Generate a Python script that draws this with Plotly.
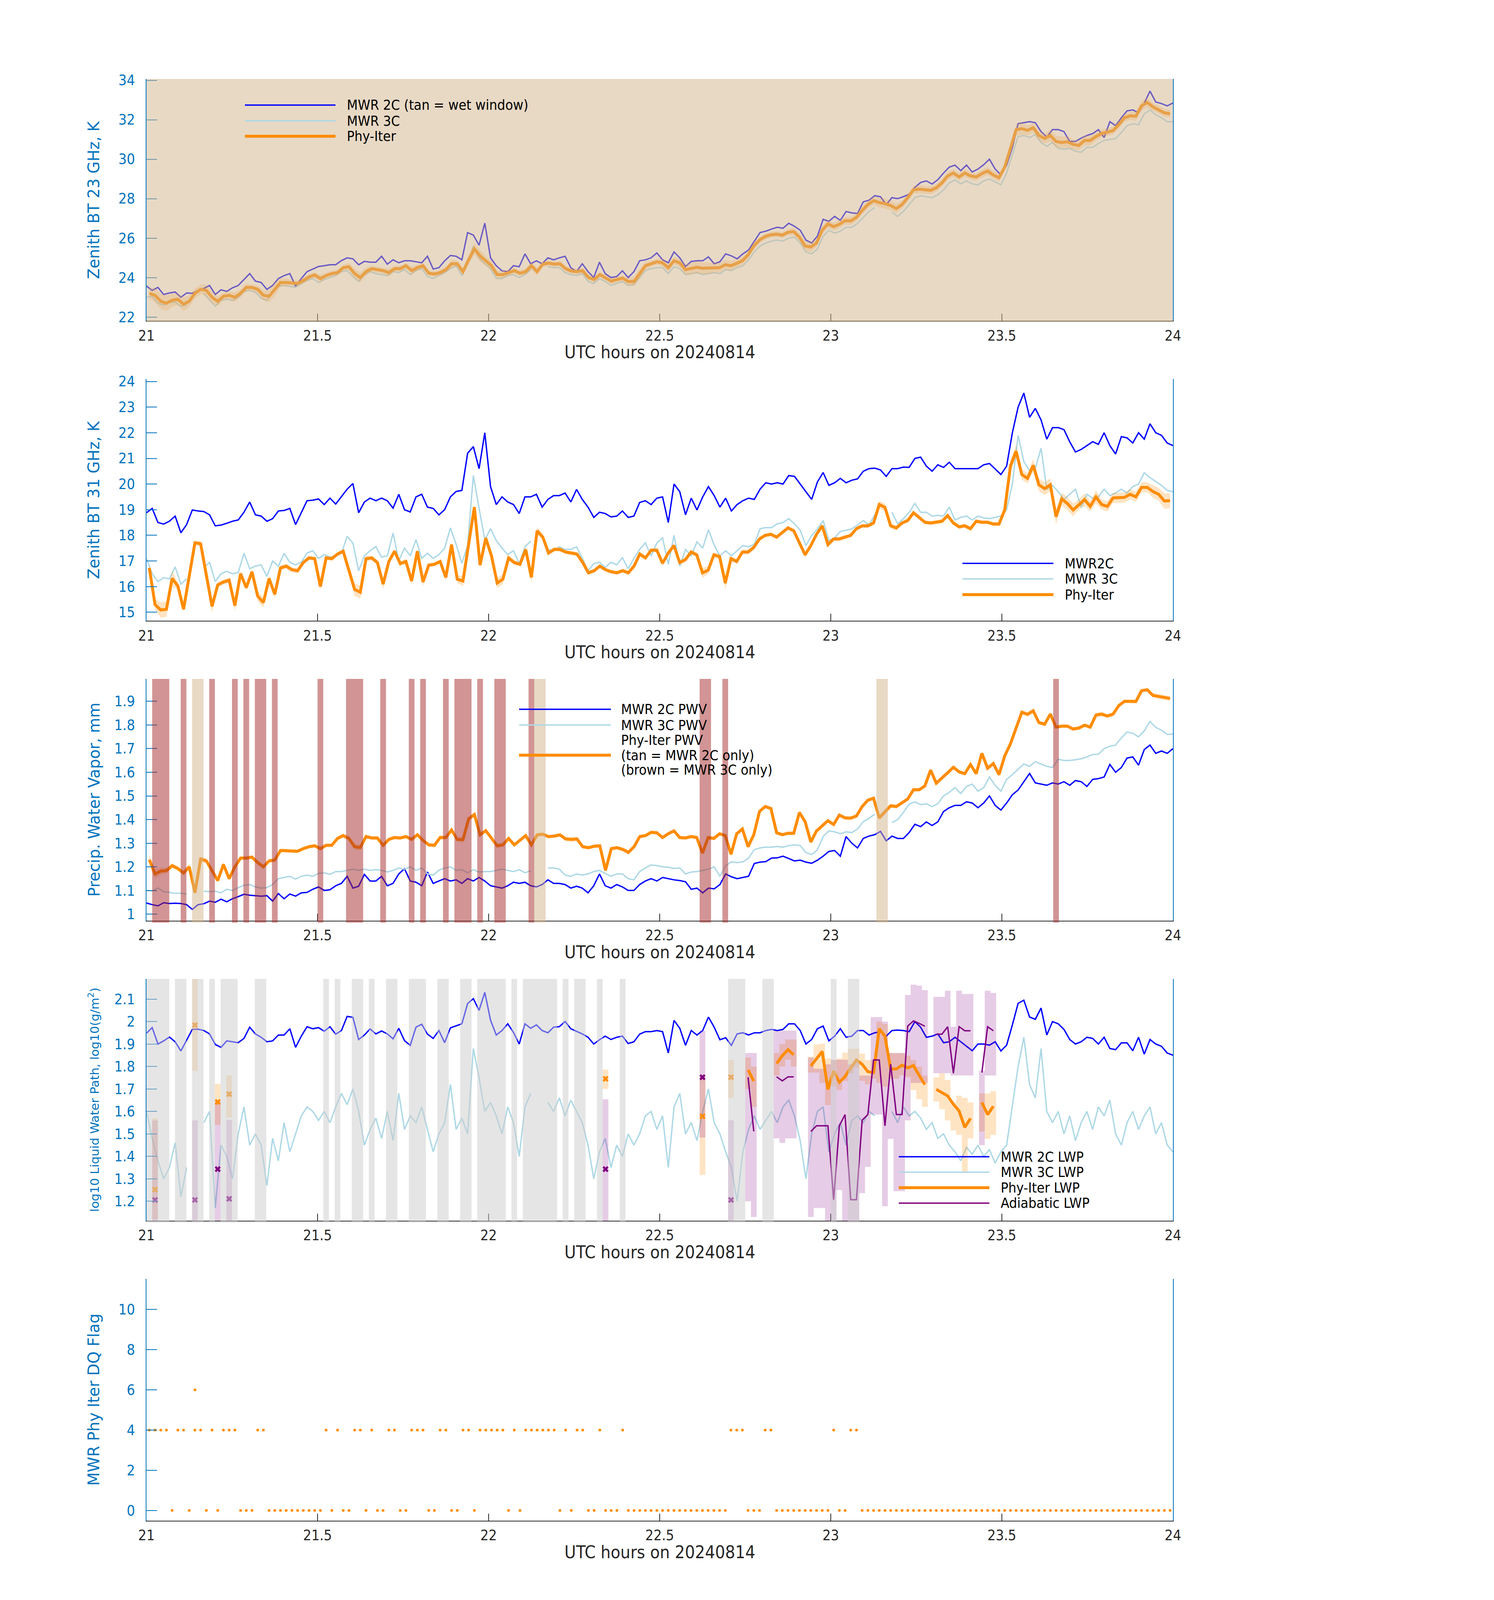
import numpy as np
import plotly.graph_objects as go

# ------------------------------------------------------------------
# data, one value per minute after 21 UTC on 20240814
# ------------------------------------------------------------------

# 23 GHz zenith brightness temperature, K
bt23_2c = [
    23.57, 23.35, 23.5, 23.14, 23.22, 23.27, 23.0, 23.22, 23.2, 23.35,
    23.45, 23.6, 23.14, 23.38, 23.3, 23.48, 23.6, 23.9, 24.2, 23.82,
    23.75, 23.4, 23.6, 23.95, 24.1, 24.2, 23.57, 23.95, 24.3, 24.43,
    24.56, 24.6, 24.65, 24.65, 24.86, 25.0, 24.95, 24.65, 24.82, 24.78,
    24.78, 25.08, 24.68, 24.9, 24.75, 24.85, 24.85, 24.8, 24.75, 25.08,
    24.43, 24.5, 24.85, 25.12, 25.08, 24.9, 26.28, 26.15, 25.64, 26.76,
    25.0, 24.6, 24.34, 24.3, 24.6, 24.55, 25.2, 24.7, 24.85, 24.7,
    25.0, 24.9, 25.0, 25.08, 24.5, 24.3, 24.7, 24.3, 24.0, 24.78,
    24.2, 24.0, 24.05, 24.34, 24.0, 24.3, 24.85, 24.9, 25.0, 25.25,
    24.9, 24.75, 25.3, 25.0, 24.56, 24.82, 24.85, 24.85, 25.05, 24.7,
    24.8, 25.2, 25.1, 24.95, 25.2, 25.4, 25.85, 26.28, 26.35, 26.46,
    26.55, 26.5, 26.75, 26.6, 26.4, 25.9, 25.75, 26.1, 26.95, 26.85,
    27.1, 26.9, 27.35, 27.28, 27.25, 27.84, 27.92, 28.15, 28.1, 27.7,
    28.05, 28.0, 28.1, 28.22, 28.57, 28.82, 28.9, 28.74, 28.96, 29.3,
    29.6, 29.7, 29.42, 29.7, 29.35, 29.5, 29.72, 30.0, 29.5, 29.2,
    29.7, 30.6, 31.8, 31.85, 31.9, 31.85, 31.4, 31.12, 31.5, 31.5,
    31.4, 30.9, 30.9, 31.07, 31.2, 31.3, 31.5, 31.1, 31.9, 31.7,
    32.1, 32.45, 32.5, 32.35, 32.84, 33.45, 32.9, 32.82, 32.7, 32.85]
bt23_3c = [
    23.0, 23.05, 22.7, 22.6, 22.75, 22.75, 22.55, 22.6, None, None,
    23.2, 22.85, 22.55, 22.85, 22.9, 22.85, 23.0, 23.3, 23.35, 23.25,
    22.95, 22.85, 23.25, 23.55, 23.6, 23.55, 23.5, 23.7, 23.85, 23.95,
    23.75, 23.9, 24.0, 24.1, 24.3, 24.35, 24.05, 23.8, 24.15, 24.3,
    24.2, 24.15, 24.1, 24.3, 24.25, 24.4, 24.15, 24.35, 24.45, 24.05,
    23.95, 24.1, 24.25, 24.45, 24.6, 24.1, 24.7, 25.6, 25.0, 24.7,
    24.45, 23.95, 23.95, 24.1, 24.15, 24.0, 24.15, 24.4, None, None,
    24.55, 24.5, 24.5, 24.25, 24.15, 24.1, 24.2, 23.8, 23.7, 23.95,
    23.8, 23.6, 23.7, 23.8, 23.6, 23.65, 24.0, 24.35, 24.45, 24.5,
    24.5, 24.2, 24.55, 24.45, 24.15, 24.2, 24.25, 24.15, 24.2, 24.25,
    24.2, 24.4, 24.35, 24.5, 24.6, 24.9, 25.3, 25.6, 25.75, 25.85,
    25.9, 25.85, 26.0, 26.05, 25.75, 25.3, 25.2, 25.45, 26.1, 26.4,
    26.25, 26.35, 26.55, 26.55, 26.75, 27.05, 27.35, 27.55, None, None,
    27.3, 27.1, 27.35, 27.7, 28.05, 28.15, 28.1, 28.05, 28.2, 28.45,
    28.8, 28.95, 28.75, 28.9, 28.75, 28.7, 28.9, 29.0, 28.85, 28.7,
    29.3, 30.2, 31.15, 31.2, 31.1, 31.25, 30.85, 30.65, 30.85, 30.55,
    30.5, 30.55, 30.4, 30.35, 30.6, 30.6, 30.8, 30.95, 31.0, 31.05,
    31.35, 31.7, 31.8, 31.75, 32.3, 32.5, 32.25, 32.1, 31.9, 31.9]
bt23_phy = [
    23.2, 23.1, 22.8, 22.7, 22.85, 22.9, 22.65, 22.8, 23.2, 23.4,
    23.35, 23.0, 22.8, 23.05, 23.1, 23.0, 23.2, 23.5, 23.5, 23.4,
    23.1, 23.05, 23.4, 23.75, 23.75, 23.72, 23.7, 23.85, 24.03, 24.13,
    23.95, 24.1, 24.2, 24.25, 24.5, 24.55, 24.2, 24.0, 24.3, 24.45,
    24.4, 24.35, 24.25, 24.45, 24.45, 24.6, 24.35, 24.5, 24.6, 24.22,
    24.18, 24.25, 24.4, 24.7, 24.7, 24.3, 24.9, 25.45, 25.1, 24.85,
    24.6, 24.15, 24.15, 24.25, 24.35, 24.22, 24.3, 24.6, 24.3, 24.68,
    24.73, 24.68, 24.7, 24.45, 24.33, 24.3, 24.35, 24.0, 23.9, 24.15,
    24.0, 23.82, 23.9, 23.97, 23.8, 23.8, 24.2, 24.6, 24.7, 24.8,
    24.75, 24.5, 24.85, 24.75, 24.4, 24.45, 24.52, 24.47, 24.47, 24.5,
    24.5, 24.65, 24.6, 24.72, 24.85, 25.15, 25.6, 25.9, 26.08, 26.17,
    26.2, 26.15, 26.3, 26.33, 26.05, 25.6, 25.55, 25.75, 26.4, 26.72,
    26.58, 26.7, 26.88, 26.87, 27.05, 27.4, 27.7, 27.9, 27.8, 27.75,
    27.65, 27.5, 27.7, 28.05, 28.45, 28.48, 28.45, 28.42, 28.55, 28.8,
    29.15, 29.3, 29.1, 29.3, 29.15, 29.1, 29.27, 29.4, 29.2, 29.06,
    29.6, 30.5, 31.5, 31.55, 31.46, 31.6, 31.2, 31.05, 31.2, 30.9,
    30.85, 30.88, 30.75, 30.7, 30.95, 30.95, 31.15, 31.3, 31.38, 31.45,
    31.75, 32.1, 32.2, 32.18, 32.7, 32.88, 32.65, 32.52, 32.35, 32.3]
bt23_phy_unc = [
    0.30, 0.35, 0.40, 0.40, 0.35, 0.30, 0.35, 0.30, 0.25, 0.25,
    0.30, 0.30, 0.25, 0.20, 0.20, 0.25, 0.20, 0.20, 0.15, 0.20,
    0.25, 0.30, 0.35, 0.20, 0.20, 0.15, 0.15, 0.15, 0.15, 0.15,
    0.20, 0.15, 0.15, 0.15, 0.15, 0.20, 0.25, 0.25, 0.20, 0.15,
    0.15, 0.15, 0.20, 0.15, 0.15, 0.15, 0.20, 0.15, 0.15, 0.15,
    0.15, 0.15, 0.15, 0.20, 0.15, 0.20, 0.25, 0.30, 0.30, 0.25,
    0.25, 0.20, 0.20, 0.15, 0.15, 0.15, 0.15, 0.20, 0.20, 0.15,
    0.15, 0.15, 0.15, 0.15, 0.15, 0.15, 0.15, 0.15, 0.15, 0.15,
    0.15, 0.15, 0.15, 0.15, 0.20, 0.25, 0.25, 0.20, 0.15, 0.15,
    0.20, 0.20, 0.20, 0.20, 0.25, 0.30, 0.30, 0.30, 0.30, 0.25,
    0.25, 0.25, 0.25, 0.20, 0.20, 0.20, 0.20, 0.15, 0.15, 0.15,
    0.15, 0.15, 0.15, 0.20, 0.20, 0.25, 0.25, 0.20, 0.20, 0.20,
    0.20, 0.20, 0.20, 0.20, 0.20, 0.20, 0.20, 0.20, 0.25, 0.25,
    0.25, 0.25, 0.20, 0.20, 0.20, 0.20, 0.20, 0.20, 0.20, 0.20,
    0.20, 0.20, 0.20, 0.20, 0.20, 0.20, 0.20, 0.20, 0.20, 0.20,
    0.20, 0.25, 0.30, 0.30, 0.25, 0.25, 0.25, 0.25, 0.30, 0.30,
    0.30, 0.30, 0.25, 0.25, 0.25, 0.25, 0.20, 0.20, 0.20, 0.20,
    0.20, 0.20, 0.20, 0.25, 0.25, 0.25, 0.20, 0.20, 0.20, 0.20]

# 31 GHz zenith brightness temperature, K
bt31_2c = [
    18.88, 19.05, 18.5, 18.44, 18.55, 18.75, 18.1, 18.42, 18.99, 18.95,
    18.93, 18.8, 18.37, 18.4, 18.47, 18.55, 18.6, 18.9, 19.3, 18.8,
    18.75, 18.55, 18.65, 18.95, 18.97, 19.05, 18.42, 18.9, 19.35, 19.37,
    19.42, 19.2, 19.45, 19.22, 19.5, 19.8, 20.02, 18.88, 19.3, 19.45,
    19.35, 19.45, 19.35, 19.06, 19.6, 19.0, 18.91, 19.5, 19.6, 19.1,
    19.05, 18.8, 19.0, 19.5, 19.71, 19.75, 21.2, 21.46, 20.6, 22.0,
    19.9, 19.2, 19.5, 19.3, 19.2, 18.85, 19.5, 19.5, 19.6, 19.1,
    19.4, 19.55, 19.55, 19.65, 19.3, 19.79, 19.4, 19.1, 18.7, 18.9,
    18.85, 18.72, 18.75, 18.95, 18.7, 18.75, 19.28, 19.35, 19.2, 19.45,
    19.5, 18.5, 20.0, 19.7, 18.8, 19.45, 18.99, 19.5, 19.9, 19.55,
    19.1, 19.45, 18.95, 19.2, 19.35, 19.45, 19.4, 19.8, 20.05, 20.0,
    20.05, 20.0, 20.33, 20.3, 20.0, 19.7, 19.4, 20.08, 20.45, 19.95,
    20.05, 20.22, 20.05, 20.15, 20.2, 20.5, 20.6, 20.62, 20.55, 20.3,
    20.6, 20.6, 20.66, 20.65, 21.0, 21.05, 20.7, 20.5, 20.75, 20.65,
    20.85, 20.6, 20.6, 20.6, 20.6, 20.6, 20.75, 20.8, 20.59, 20.37,
    20.7, 22.0, 23.0, 23.55, 22.6, 22.95, 22.5, 21.75, 22.2, 22.2,
    22.12, 21.65, 21.25, 21.35, 21.5, 21.65, 21.55, 22.0, 21.5, 21.17,
    21.85, 21.8, 21.6, 22.0, 21.75, 22.35, 22.0, 21.9, 21.6, 21.5]
bt31_3c = [
    17.1, 16.5, 16.2, 16.35, 16.3, 16.77, 16.1, 16.3, None, None,
    16.73, 16.95, 16.2, 16.5, 16.6, 16.5, 16.55, 17.3, 16.7, 16.8,
    16.85, 16.4, 17.0, 16.8, 17.3, 16.95, 16.85, 16.95, 17.31, 17.4,
    17.1, 17.25, 17.15, 17.2, 17.3, 17.96, 17.7, 16.62, 17.2, 17.4,
    17.56, 17.15, 17.2, 18.09, 17.0, 17.5, 17.2, 17.83, 17.1, 17.3,
    17.1, 17.25, 17.5, 18.29, 17.65, 16.91, 17.6, 20.33, 19.06, 17.82,
    18.26, 17.8, 17.5, 17.25, 17.4, 16.9, 17.55, 17.78, None, None,
    17.45, 17.4, 17.55, 17.45, 17.45, 17.55, 17.1, 16.62, 16.9, 16.95,
    16.75, 16.95, 16.85, 17.13, 16.7, 17.1, 17.45, 17.71, 17.2, 17.7,
    17.9, 16.87, 18.0, 16.8, 17.45, 17.2, 17.75, 17.5, 18.22, 17.62,
    17.2, 17.4, 17.2, 17.4, 17.6, 17.55, 17.65, 18.26, 18.3, 18.3,
    18.45, 18.5, 18.65, 18.45, 18.2, 17.6, 18.0, 18.25, 18.58, 17.8,
    17.9, 18.15, 18.2, 18.25, 18.4, 18.58, 18.4, 18.8, None, None,
    18.9, 18.45, 18.65, 18.9, 19.24, 18.9, 18.9, 18.75, 18.78, 18.75,
    19.1, 18.6, 18.7, 18.75, 18.6, 18.75, 18.68, 18.65, 18.7, 18.75,
    19.0, 20.0, 21.9, 20.88, 20.52, 20.6, 21.4, 19.8, 19.95, 19.7,
    19.4, 19.6, 19.8, 19.1, 19.6, 19.45, 19.5, 19.8, 19.55, 19.65,
    19.8, 19.65, 19.9, 20.0, 20.44, 20.25, 20.1, 19.95, 19.75, 19.7]
bt31_phy = [
    16.73, 15.3, 15.09, 15.12, 16.32, 16.03, 15.12, 16.45, 17.71, 17.67,
    16.45, 15.23, 16.07, 16.18, 16.25, 15.26, 16.51, 15.96, 16.58, 15.63,
    15.38, 16.32, 15.7, 16.73, 16.8, 16.66, 16.62, 16.94, 17.12, 17.09,
    16.0, 17.12, 17.09, 17.27, 17.38, 16.62, 15.89, 15.78, 17.09, 17.12,
    16.94, 16.1, 16.98, 17.38, 16.9, 16.98, 16.22, 17.38, 16.18, 16.84,
    16.87, 16.98, 16.36, 17.64, 16.29, 16.22, 17.6, 19.1, 16.84, 17.89,
    17.2, 16.14, 16.29, 17.12, 16.94, 16.87, 17.45, 16.36, 18.18, 17.93,
    17.31, 17.45, 17.45, 17.35, 17.31, 17.27, 16.94, 16.54, 16.62, 16.8,
    16.66, 16.58, 16.54, 16.62, 16.54, 16.8, 17.27, 17.12, 17.42, 17.42,
    16.91, 17.31, 17.6, 16.94, 17.05, 17.35, 17.24, 16.54, 16.64, 17.24,
    17.17, 16.14, 17.09, 16.98, 17.35, 17.35, 17.53, 17.86, 18.0, 18.04,
    17.93, 18.11, 18.29, 18.18, 17.71, 17.24, 17.6, 18.04, 18.37, 17.64,
    17.86, 17.86, 17.93, 18.0, 18.26, 18.37, 18.37, 18.48, 19.2, 19.09,
    18.37, 18.29, 18.48, 18.58, 18.88, 18.69, 18.51, 18.48, 18.51, 18.55,
    18.77, 18.48, 18.33, 18.37, 18.26, 18.55, 18.51, 18.51, 18.44, 18.44,
    18.99, 20.7, 21.28, 20.37, 20.22, 20.73, 19.97, 19.82, 19.97, 18.73,
    19.42, 19.24, 18.99, 19.2, 19.39, 19.13, 19.5, 19.2, 19.13, 19.46,
    19.46, 19.48, 19.6, 19.5, 19.87, 19.87, 19.71, 19.6, 19.34, 19.35]
bt31_phy_unc = [
    0.15, 0.2, 0.3, 0.3, 0.3, 0.15, 0.1, 0.25, 0.1, 0.1,
    0.15, 0.25, 0.1, 0.1, 0.1, 0.2, 0.1, 0.1, 0.1, 0.2,
    0.2, 0.1, 0.15, 0.1, 0.1, 0.1, 0.1, 0.08, 0.08, 0.08,
    0.1, 0.08, 0.08, 0.08, 0.08, 0.15, 0.25, 0.25, 0.1, 0.1,
    0.1, 0.2, 0.1, 0.08, 0.1, 0.1, 0.15, 0.08, 0.15, 0.08,
    0.08, 0.08, 0.15, 0.1, 0.15, 0.2, 0.1, 0.1, 0.1, 0.1,
    0.1, 0.2, 0.2, 0.1, 0.1, 0.08, 0.08, 0.2, 0.15, 0.1,
    0.08, 0.08, 0.08, 0.08, 0.08, 0.08, 0.08, 0.08, 0.08, 0.08,
    0.08, 0.08, 0.08, 0.08, 0.1, 0.1, 0.1, 0.08, 0.08, 0.08,
    0.1, 0.1, 0.1, 0.1, 0.1, 0.1, 0.1, 0.2, 0.15, 0.1,
    0.1, 0.25, 0.1, 0.1, 0.1, 0.1, 0.1, 0.1, 0.08, 0.08,
    0.08, 0.08, 0.08, 0.08, 0.1, 0.1, 0.1, 0.1, 0.08, 0.1,
    0.08, 0.08, 0.08, 0.08, 0.08, 0.08, 0.08, 0.08, 0.15, 0.15,
    0.1, 0.1, 0.08, 0.08, 0.08, 0.08, 0.08, 0.08, 0.08, 0.08,
    0.08, 0.08, 0.08, 0.08, 0.08, 0.08, 0.08, 0.08, 0.08, 0.08,
    0.1, 0.25, 0.25, 0.2, 0.2, 0.25, 0.25, 0.25, 0.25, 0.3,
    0.25, 0.25, 0.25, 0.2, 0.25, 0.2, 0.25, 0.2, 0.2, 0.2,
    0.2, 0.2, 0.2, 0.2, 0.2, 0.2, 0.25, 0.25, 0.3, 0.3]

# precipitable water vapor, mm
pwv_2c = [
    1.047, 1.04, 1.035, 1.048, 1.045, 1.046, 1.045, 1.04, 1.02, 1.04,
    1.044, 1.055, 1.05, 1.063, 1.052, 1.065, 1.074, 1.084, 1.08, 1.078,
    1.076, 1.078, 1.055, 1.087, 1.065, 1.085, 1.076, 1.09, 1.092, 1.105,
    1.115, 1.1, 1.103, 1.12, 1.13, 1.16, 1.11, 1.118, 1.168, 1.14,
    1.14, 1.16, 1.12, 1.13, 1.17, 1.192, 1.14, 1.135, 1.12, 1.178,
    1.13, 1.14, 1.15, 1.14, 1.145, 1.13, 1.15, 1.14, 1.155, 1.14,
    1.12, 1.115, 1.11, 1.12, 1.135, 1.13, 1.135, 1.12, 1.115, 1.125,
    1.145, 1.13, 1.13, 1.125, 1.11, 1.118, 1.11, 1.09, 1.12, 1.17,
    1.12, 1.11, 1.125, 1.115, 1.1, 1.1, 1.125, 1.14, 1.15, 1.14,
    1.155, 1.15, 1.145, 1.142, 1.137, 1.105, 1.11, 1.09, 1.11, 1.107,
    1.125, 1.17, 1.158, 1.15, 1.155, 1.16, 1.214, 1.22, 1.222, 1.237,
    1.238, 1.245, 1.235, 1.225, 1.228, 1.22, 1.215, 1.228, 1.245, 1.265,
    1.269, 1.245, 1.328, 1.3, 1.28, 1.32, 1.33, 1.336, 1.35, 1.31,
    1.33, 1.32, 1.32, 1.345, 1.38, 1.37, 1.39, 1.375, 1.39, 1.434,
    1.45, 1.46, 1.46, 1.475, 1.47, 1.45, 1.47, 1.5, 1.46, 1.44,
    1.47, 1.505, 1.525, 1.56, 1.595, 1.555, 1.55, 1.545, 1.555, 1.55,
    1.56, 1.545, 1.565, 1.56, 1.54, 1.57, 1.573, 1.58, 1.633, 1.6,
    1.62, 1.66, 1.665, 1.63, 1.696, 1.715, 1.68, 1.69, 1.68, 1.7]
pwv_3c = [
    1.1, 1.098, 1.11, 1.095, 1.092, 1.088, 1.088, 1.085, None, None,
    1.097, 1.095, 1.097, 1.09, 1.105, 1.1, 1.112, 1.122, 1.125, 1.115,
    1.11, 1.112, 1.125, 1.15, 1.155, 1.16, 1.148, 1.16, 1.165, 1.16,
    1.172, 1.175, 1.168, 1.18, 1.18, 1.185, 1.19, 1.185, 1.19, 1.185,
    1.188, 1.185, 1.178, 1.185, 1.195, 1.19, 1.2, 1.185, 1.195, 1.17,
    1.165, 1.186, 1.195, 1.2, 1.185, 1.188, 1.175, 1.188, 1.178, 1.18,
    1.18, 1.185, 1.19, 1.185, 1.18, 1.188, 1.175, 1.183, None, None,
    1.195, 1.195, 1.19, 1.165, 1.16, 1.17, 1.165, 1.17, 1.18, 1.185,
    1.172, 1.16, 1.17, 1.17, 1.15, 1.145, 1.18, 1.195, 1.208, 1.205,
    1.2, 1.198, 1.193, 1.195, 1.17, 1.178, 1.18, 1.185, 1.19, 1.2,
    1.16, 1.205, 1.221, 1.218, 1.221, 1.237, 1.273, 1.28, 1.283, 1.283,
    1.286, 1.283, 1.29, 1.293, 1.29, 1.26, 1.252, 1.272, 1.328, 1.352,
    1.348, 1.34, 1.348, 1.345, 1.36, 1.391, 1.405, 1.423, None, None,
    1.387, 1.4, 1.43, 1.465, 1.475, 1.463, 1.467, 1.455, 1.467, 1.5,
    1.515, 1.535, 1.51, 1.54, 1.55, 1.52, 1.535, 1.58, 1.545, 1.52,
    1.57, 1.59, 1.613, 1.635, 1.625, 1.645, 1.635, 1.625, 1.62, 1.655,
    1.65, 1.65, 1.653, 1.657, 1.665, 1.675, 1.676, 1.7, 1.71, 1.715,
    1.745, 1.77, 1.765, 1.75, 1.775, 1.815, 1.79, 1.778, 1.76, 1.762]
pwv_phy = [
    1.23, 1.17, 1.182, 1.184, 1.205, 1.193, 1.174, 1.2, 1.091, 1.233,
    1.225, 1.182, 1.142, 1.21, 1.15, 1.2, 1.237, 1.237, 1.241, 1.218,
    1.2, 1.225, 1.229, 1.269, 1.269, 1.266, 1.266, 1.277, 1.285, 1.289,
    1.277, 1.291, 1.291, 1.32, 1.332, 1.32, 1.285, 1.282, 1.328, 1.322,
    1.322, 1.291, 1.316, 1.324, 1.322, 1.328, 1.316, 1.336, 1.312, 1.293,
    1.291, 1.324, 1.324, 1.356, 1.316, 1.315, 1.403, 1.421, 1.336, 1.353,
    1.32, 1.289, 1.293, 1.32, 1.293, 1.312, 1.332, 1.293, 1.335, 1.338,
    1.328, 1.33, 1.335, 1.318, 1.316, 1.318, 1.285, 1.281, 1.287, 1.289,
    1.185, 1.277, 1.281, 1.274, 1.261, 1.285, 1.328, 1.332, 1.346, 1.344,
    1.324, 1.34, 1.352, 1.324, 1.322, 1.328, 1.324, 1.258, 1.324, 1.32,
    1.34, 1.332, 1.253, 1.34, 1.36, 1.285, 1.336, 1.434, 1.455, 1.447,
    1.344, 1.336, 1.342, 1.342, 1.43, 1.391, 1.305, 1.352, 1.372, 1.395,
    1.379, 1.419, 1.407, 1.406, 1.415, 1.455, 1.482, 1.49, 1.407, 1.434,
    1.458, 1.455, 1.471, 1.487, 1.526, 1.526, 1.542, 1.609, 1.554, 1.578,
    1.598, 1.621, 1.602, 1.594, 1.633, 1.594, 1.68, 1.617, 1.637, 1.59,
    1.669, 1.72, 1.79, 1.854, 1.845, 1.86, 1.81, 1.803, 1.846, 1.791,
    1.795, 1.795, 1.783, 1.787, 1.799, 1.791, 1.842, 1.846, 1.838, 1.846,
    1.882, 1.9, 1.9, 1.899, 1.945, 1.949, 1.925, 1.921, 1.917, 1.912]
pwv_phy_unc = [
    0.02, 0.02, 0.015, 0.012, 0.01, 0.01, 0.01, 0.012, 0.015, 0.01,
    0.01, 0.012, 0.01, 0.01, 0.01, 0.01, 0.008, 0.008, 0.008, 0.01,
    0.01, 0.008, 0.008, 0.008, 0.008, 0.008, 0.008, 0.008, 0.008, 0.008,
    0.01, 0.008, 0.008, 0.008, 0.01, 0.01, 0.012, 0.012, 0.01, 0.008,
    0.008, 0.01, 0.008, 0.008, 0.008, 0.008, 0.008, 0.008, 0.008, 0.008,
    0.01, 0.01, 0.008, 0.008, 0.01, 0.012, 0.01, 0.01, 0.01, 0.008,
    0.008, 0.01, 0.01, 0.008, 0.008, 0.008, 0.008, 0.01, 0.01, 0.008,
    0.008, 0.008, 0.008, 0.01, 0.01, 0.01, 0.008, 0.008, 0.008, 0.008,
    0.01, 0.008, 0.008, 0.008, 0.01, 0.01, 0.008, 0.008, 0.008, 0.008,
    0.008, 0.008, 0.008, 0.008, 0.008, 0.008, 0.008, 0.01, 0.008, 0.008,
    0.008, 0.008, 0.01, 0.008, 0.008, 0.008, 0.008, 0.008, 0.008, 0.008,
    0.008, 0.008, 0.008, 0.008, 0.008, 0.008, 0.008, 0.008, 0.008, 0.008,
    0.008, 0.008, 0.008, 0.008, 0.008, 0.008, 0.008, 0.008, 0.012, 0.012,
    0.01, 0.008, 0.008, 0.008, 0.008, 0.008, 0.008, 0.008, 0.008, 0.008,
    0.008, 0.008, 0.008, 0.008, 0.008, 0.008, 0.008, 0.008, 0.008, 0.008,
    0.008, 0.008, 0.008, 0.01, 0.01, 0.01, 0.008, 0.008, 0.008, 0.008,
    0.008, 0.008, 0.008, 0.008, 0.008, 0.008, 0.01, 0.01, 0.008, 0.008,
    0.008, 0.008, 0.008, 0.008, 0.008, 0.008, 0.01, 0.01, 0.01, 0.01]
# minutes where the Phy-Iter PWV used one radiometer only
pwv_only_2c_min = [8, 9, 68, 69, 128, 129]
pwv_only_3c_min = [1, 2, 3, 6, 11, 15, 17, 19, 20, 22, 30, 35, 36, 37, 41,
                   46, 48, 52, 54, 55, 56, 58, 61, 62, 67, 97, 98, 101, 159]

# log10 liquid water path, log10(g/m2)
lwp_2c = [
    1.948, 1.973, 1.9, 1.914, 1.931, 1.91, 1.869, 1.917, 1.965, 1.966,
    1.96, 1.945, 1.898, 1.885, 1.914, 1.91, 1.906, 1.925, 1.975, 1.945,
    1.93, 1.91, 1.914, 1.94, 1.94, 1.968, 1.885, 1.935, 1.977, 1.968,
    1.973, 1.957, 1.977, 1.944, 1.96, 2.023, 2.019, 1.92, 1.94, 1.967,
    1.945, 1.958, 1.945, 1.923, 1.97, 1.915, 1.894, 1.975, 1.988, 1.944,
    1.925, 1.96, 1.906, 1.972, 1.981, 1.99, 2.08, 2.102, 2.05, 2.13,
    2.006, 1.94, 1.96, 1.99, 1.952, 1.9, 1.99, 1.97, 1.985, 1.96,
    1.95, 1.975, 1.977, 2.0, 1.968, 1.956, 1.945, 1.93, 1.9, 1.919,
    1.935, 1.92, 1.93, 1.935, 1.902, 1.91, 1.944, 1.955, 1.955, 1.96,
    1.955, 1.86, 2.005, 1.97, 1.894, 1.96, 1.94, 1.96, 2.02, 1.975,
    1.919, 1.928, 1.894, 1.945, 1.95, 1.94, 1.95, 1.95, 1.96, 1.965,
    1.96, 1.965, 1.99, 1.99, 1.96, 1.9, 1.92, 1.968, 1.98, 1.914,
    1.935, 1.968, 1.93, 1.935, 1.96, 1.96, 1.94, 1.95, 1.955, 1.935,
    1.96, 1.962, 1.96, 1.955, 2.0, 1.975, 1.93, 1.935, 1.945, 1.906,
    1.91, 1.93, 1.91, 1.89, 1.87, 1.9, 1.9, 1.895, 1.91, 1.869,
    1.895, 1.985, 2.081, 2.095, 2.02, 2.01, 2.06, 1.94, 2.0, 1.99,
    1.965, 1.92, 1.9, 1.91, 1.93, 1.925, 1.9, 1.93, 1.88, 1.875,
    1.905, 1.905, 1.87, 1.93, 1.855, 1.92, 1.9, 1.89, 1.86, 1.85]
lwp_3c = [
    1.6, 1.48, 1.38, 1.3, 1.35, 1.46, 1.22, 1.35, None, None,
    1.55, 1.6, 1.17, 1.45, 1.4, 1.3, 1.5, 1.62, 1.45, 1.5,
    1.45, 1.27, 1.48, 1.38, 1.55, 1.42, 1.5, 1.58, 1.62, 1.6,
    1.56, 1.6, 1.55, 1.62, 1.68, 1.63, 1.7, 1.6, 1.45, 1.52,
    1.57, 1.48, 1.6, 1.47, 1.68, 1.52, 1.58, 1.55, 1.62, 1.52,
    1.42, 1.5, 1.55, 1.72, 1.52, 1.57, 1.5, 1.88, 1.75, 1.6,
    1.64, 1.58, 1.5, 1.62, 1.55, 1.4, 1.62, 1.68, None, None,
    1.64, 1.6, 1.66, 1.58, 1.65, 1.6, 1.55, 1.45, 1.3, 1.42,
    1.48, 1.35, 1.45, 1.4, 1.5, 1.45, 1.5, 1.58, 1.6, 1.52,
    1.58, 1.35, 1.62, 1.68, 1.5, 1.55, 1.47, 1.6, 1.7, 1.55,
    1.5, 1.42, 1.35, 1.2, 1.42, 1.52, 1.58, 1.52, 1.56, 1.6,
    1.55, 1.62, 1.65, 1.58, 1.47, 1.3, 1.5, 1.6, 1.62, 1.42,
    1.5, 1.55, 1.45, 1.56, 1.58, 1.55, 1.6, 1.58, None, None,
    1.6, 1.55, 1.62, 1.58, 1.6, 1.57, 1.52, 1.55, 1.48, 1.5,
    1.45, 1.42, 1.38, 1.44, 1.41, 1.45, 1.4, 1.43, 1.37, 1.42,
    1.45, 1.62, 1.8, 1.93, 1.72, 1.66, 1.88, 1.6, 1.55, 1.6,
    1.5, 1.58, 1.47, 1.55, 1.6, 1.52, 1.62, 1.58, 1.65, 1.5,
    1.45, 1.55, 1.6, 1.52, 1.58, 1.62, 1.5, 1.55, 1.45, 1.42]

# Phy-Iter and adiabatic LWP exist only at these minutes
lwp_min = [1, 8, 12, 14, 80, 97, 102, 105, 106, 110, 111, 112, 113,
           116, 117, 118, 119, 120, 121, 122, 123, 124, 125, 126, 127,
           128, 129, 130, 131, 132, 133, 134, 135, 136,
           138, 139, 140, 141, 142, 143, 144, 146, 147, 148]
phy_lwp = [1.252, 1.984, 1.642, 1.677, 1.745, 1.578, 1.752, 1.785, 1.735,
           1.813, 1.848, 1.875, 1.852,
           1.802, 1.835, 1.867, 1.698, 1.78, 1.73, 1.755, 1.794, 1.829,
           1.81, 1.777, 1.773, 1.968, 1.935, 1.789, 1.789, 1.806, 1.794,
           1.804, 1.76, 1.719,
           1.698, 1.682, 1.669, 1.632, 1.602, 1.529, 1.569, 1.64, 1.586, 1.623]
phy_lwp_lo = [1.12, 1.78, 1.54, 1.573, 1.70, 1.317, 1.661, 1.70, 1.62,
              1.76, 1.80, 1.83, 1.80,
              1.773, 1.773, 1.727, 1.628, 1.711, 1.695, 1.736, 1.769, 1.794,
              1.736, 1.72, 1.745, 1.727, 1.71, 1.745, 1.745, 1.761, 1.753,
              1.695, 1.654, 1.62,
              1.644, 1.61, 1.56, 1.515, 1.495, 1.328, 1.48, 1.51, 1.478, 1.495]
phy_lwp_hi = [1.57, 2.2, 1.723, 1.76, 1.786, 1.76, 1.829, 1.84, 1.80,
              1.86, 1.90, 1.92, 1.92,
              1.844, 1.898, 1.902, 1.836, 1.828, 1.836, 1.861, 1.878, 1.88,
              1.857, 1.828, 1.83, 2.0, 1.99, 1.86, 1.86, 1.86, 1.848,
              1.828, 1.80, 1.76,
              1.752, 1.77, 1.74, 1.64, 1.67, 1.66, 1.64, 1.68, 1.68, 1.69]
adi_lwp = [1.206, 1.206, 1.343, 1.211, 1.343, 1.752, 1.206, 1.752, 1.511,
           1.754, 1.736, 1.754, 1.754,
           1.511, 1.536, 1.536, 1.536, 1.207, 1.536, 1.586, 1.207, 1.207,
           1.561, 1.586, 1.829, 1.829, 1.536, 1.81, 1.586, 1.586, 1.98,
           2.003, 1.992, 1.979,
           1.944, 1.944, 1.977, 1.77, 1.977, 1.959, 1.959, 1.773, 1.977, 1.959]
adi_lwp_lo = [1.10, 1.0, 1.0, 1.0, 1.0, 1.484, 1.0, 1.2, 1.13,
              1.48, 1.46, 1.48, 1.48,
              1.13, 1.17, 1.17, 1.05, 1.05, 1.25, 1.05, 1.05, 1.05,
              1.236, 1.353, 1.586, 1.586, 1.178, 1.478, 1.245, 1.245, 1.56,
              1.727, 1.727, 1.727,
              1.77, 1.77, 1.77, 1.76, 1.76, 1.76, 1.76, 1.45, 1.76, 1.76]
adi_lwp_hi = [1.56, 1.56, 1.644, 1.563, 1.654, 1.959, 1.561, 1.86, 1.86,
              1.96, 1.96, 1.96, 1.96,
              1.84, 1.79, 1.79, 1.81, 1.83, 1.83, 1.83, 1.81, 1.82,
              1.76, 1.76, 2.02, 2.02, 2.0, 1.86, 1.86, 1.86, 2.118,
              2.164, 2.16, 2.14,
              2.11, 2.11, 2.137, 1.977, 2.137, 2.123, 2.123, 1.78, 2.137, 2.127]

# Phy-Iter data quality flag
dq_flag = [
    4, 4, 4, 4, 0, 4, 4, 0, 4, 4,
    0, 4, 0, 4, 4, 4, 0, 0, 0, 4,
    4, 0, 0, 0, 0, 0, 0, 0, 0, 0,
    0, 4, 0, 4, 0, 0, 4, 4, 0, 4,
    0, 0, 4, 4, 0, 0, 4, 4, 4, 0,
    0, 4, 4, 0, 0, 4, 4, 0, 4, 4,
    4, 4, 4, 0, 4, 0, 4, 4, 4, 4,
    4, 4, 0, 4, 0, 4, 4, 0, 0, 4,
    0, 0, 0, 4, 0, 0, 0, 0, 0, 0,
    0, 0, 0, 0, 0, 0, 0, 0, 0, 0,
    0, 0, 4, 4, 4, 0, 0, 0, 4, 4,
    0, 0, 0, 0, 0, 0, 0, 0, 0, 0,
    4, 0, 0, 4, 4, 0, 0, 0, 0, 0,
    0, 0, 0, 0, 0, 0, 0, 0, 0, 0,
    0, 0, 0, 0, 0, 0, 0, 0, 0, 0,
    0, 0, 0, 0, 0, 0, 0, 0, 0, 0,
    0, 0, 0, 0, 0, 0, 0, 0, 0, 0,
    0, 0, 0, 0, 0, 0, 0, 0, 0, 0]
dq_extra_min = [8]
dq_extra_flag = [6]

# ------------------------------------------------------------------
N = 180
t_mwr = np.linspace(21, 24, N)
t_phy = 21 + (np.arange(N) + 0.5) / 60.0

BLUE, LBLUE, ORANGE, PURPLE = "#0000FF", "#ADD8E6", "#FF8C00", "#800080"
AXBLUE, DARK = "#0072BD", "#262626"
ORANGE_FILL = "rgba(255,140,0,0.23)"
PURPLE_FILL = "rgba(128,0,128,0.2)"
TAN = "rgba(210,180,140,0.5)"
BROWN = "rgba(165,42,42,0.5)"
GRAY = "rgba(204,204,204,0.5)"
COND = "DejaVu Sans Condensed, Liberation Sans Narrow, DejaVu Sans, sans-serif"
WIDE = "DejaVu Sans, sans-serif"

# The browser shows 3825 x 4096 px, so the 3825 x 6000 page is laid out with
# its rows squeezed to fit.  Positions below are given in reference pixels.
REF_H, VIEW_H, BODY = 6000, 4096, 8
SY = VIEW_H / REF_H
PL, PR = 375, 3003
TOPS = [296, 1421, 2546, 3671, 4796]
PH = 907
PB = TOPS[-1] + PH
FIG_W = 3825 - BODY
FIG_H = VIEW_H - BODY


def pxx(p):
    return (p - PL) / (PR - PL)


def pxy(p):
    return (PB - p) / (PB - TOPS[0])


def ax(k):
    return ("x", "y") if k == 1 else ("x%d" % k, "y%d" % k)


fig = go.Figure()


def line(k, x, y, color, width):
    xa, ya = ax(k)
    fig.add_trace(go.Scatter(x=x, y=y, mode="lines", xaxis=xa, yaxis=ya,
                             line=dict(color=color, width=width),
                             connectgaps=False, showlegend=False, hoverinfo="skip"))


def band(k, x, v, u, color):
    xa, ya = ax(k)
    v = np.array(v, dtype=float)
    u = np.array(u, dtype=float)
    xs = np.concatenate([x, x[::-1]])
    ys = np.concatenate([v + u, (v - u)[::-1]])
    fig.add_trace(go.Scatter(x=xs, y=ys, mode="lines", fill="toself", fillcolor=color,
                             line=dict(width=0), xaxis=xa, yaxis=ya,
                             showlegend=False, hoverinfo="skip"))


def runs(mins):
    out = []
    for m in sorted(mins):
        if out and m == out[-1][-1] + 1:
            out[-1].append(m)
        else:
            out.append([m])
    return out


def stair_band(k, mins, lo, hi, color):
    xa, ya = ax(k)
    lo = dict(zip(mins, lo))
    hi = dict(zip(mins, hi))
    xs, ys = [], []
    for r in runs(mins):
        tx, ty, by = [], [], []
        for m in r:
            tx += [21 + m / 60.0, 21 + (m + 1) / 60.0]
            ty += [hi[m], hi[m]]
            by += [lo[m], lo[m]]
        xs += tx + tx[::-1] + [None]
        ys += ty + by[::-1] + [None]
    fig.add_trace(go.Scatter(x=xs, y=ys, mode="lines", fill="toself", fillcolor=color,
                             line=dict(width=0), xaxis=xa, yaxis=ya,
                             showlegend=False, hoverinfo="skip"))


shapes = []
annotations = []


def vspans(k, mins, color):
    xa, ya = ax(k)
    for r in runs(mins):
        shapes.append(dict(type="rect", xref=xa, yref=ya + " domain",
                           x0=21 + r[0] / 60.0, x1=21 + (r[-1] + 1) / 60.0,
                           y0=-0.008, y1=1, fillcolor=color, line=dict(width=0),
                           layer="above"))


def label(text, xref_px, yref_px):
    annotations.append(dict(text=text, xref="paper", yref="paper",
                            x=pxx(xref_px), y=pxy(yref_px), xanchor="left",
                            yanchor="middle", align="left", showarrow=False,
                            font=dict(family=COND, size=36, color="black")))


def legend(entries, x0, x1, xt):
    for text, color, width, yrow in entries:
        shapes.append(dict(type="line", xref="paper", yref="paper",
                           x0=pxx(x0), x1=pxx(x1), y0=pxy(yrow), y1=pxy(yrow),
                           line=dict(color=color, width=width), layer="above"))
        label(text, xt, yrow)


# panel 1: 23 GHz
line(1, t_mwr, bt23_2c, BLUE, 3.5)
line(1, t_mwr, bt23_3c, LBLUE, 3.5)
band(1, t_phy, bt23_phy, bt23_phy_unc, ORANGE_FILL)
line(1, t_phy, bt23_phy, ORANGE, 7.5)
shapes.append(dict(type="rect", xref="x", yref="y domain", x0=21, x1=24,
                   y0=-0.006, y1=1, fillcolor=TAN, line=dict(width=0), layer="above"))
legend([("MWR 2C (tan = wet window)", BLUE, 3.5, 394),
        ("MWR 3C", LBLUE, 3.5, 453),
        ("Phy-Iter", ORANGE, 7.5, 511)], 627, 859, 886)

# panel 2: 31 GHz
line(2, t_mwr, bt31_2c, BLUE, 3.5)
line(2, t_mwr, bt31_3c, LBLUE, 3.5)
band(2, t_phy, bt31_phy, bt31_phy_unc, ORANGE_FILL)
line(2, t_phy, bt31_phy, ORANGE, 7.5)
legend([("MWR2C", BLUE, 3.5, 2113),
        ("MWR 3C", LBLUE, 3.5, 2171),
        ("Phy-Iter", ORANGE, 7.5, 2230)], 2464, 2697, 2724)

# panel 3: PWV
line(3, t_mwr, pwv_2c, BLUE, 3.5)
line(3, t_mwr, pwv_3c, LBLUE, 3.5)
band(3, t_phy, pwv_phy, pwv_phy_unc, ORANGE_FILL)
line(3, t_phy, pwv_phy, ORANGE, 7.5)
vspans(3, pwv_only_3c_min, BROWN)
vspans(3, pwv_only_2c_min, TAN)
legend([("MWR 2C PWV", BLUE, 3.5, 2660),
        ("MWR 3C PWV", LBLUE, 3.5, 2719),
        ("(tan = MWR 2C only)", ORANGE, 7.5, 2832)], 1329, 1564, 1588)
label("Phy-Iter PWV", 1588, 2776)
label("(brown = MWR 3C only)", 1588, 2887)

# panel 4: LWP
line(4, t_mwr, lwp_2c, BLUE, 3.5)
line(4, t_mwr, lwp_3c, LBLUE, 3.5)
stair_band(4, lwp_min, phy_lwp_lo, phy_lwp_hi, ORANGE_FILL)
stair_band(4, lwp_min, adi_lwp_lo, adi_lwp_hi, PURPLE_FILL)
phy_full = [None] * N
adi_full = [None] * N
for m, a, b in zip(lwp_min, phy_lwp, adi_lwp):
    phy_full[m] = a
    adi_full[m] = b
line(4, t_phy, phy_full, ORANGE, 7.5)
line(4, t_phy, adi_full, PURPLE, 3.5)
have = set(lwp_min)
lone = [m for m in lwp_min if (m - 1) not in have and (m + 1) not in have]
for vals, color in ((phy_full, ORANGE), (adi_full, PURPLE)):
    fig.add_trace(go.Scatter(x=[t_phy[m] for m in lone], y=[vals[m] for m in lone],
                             mode="markers", xaxis="x4", yaxis="y4",
                             marker=dict(symbol="x", size=14, color=color),
                             showlegend=False, hoverinfo="skip"))
vspans(4, [m for m in range(N) if dq_flag[m] > 0], GRAY)
legend([("MWR 2C LWP", BLUE, 3.5, 4338),
        ("MWR 3C LWP", LBLUE, 3.5, 4396),
        ("Phy-Iter LWP", ORANGE, 7.5, 4454),
        ("Adiabatic LWP", PURPLE, 3.5, 4512)], 2301, 2533, 2560)

# panel 5: DQ flag
fig.add_trace(go.Scatter(x=list(t_phy) + [t_phy[m] for m in dq_extra_min],
                         y=dq_flag + dq_extra_flag, mode="markers",
                         xaxis="x5", yaxis="y5",
                         marker=dict(size=7, color=ORANGE),
                         showlegend=False, hoverinfo="skip"))

# axes
y_ranges = [(21.81, 34.07), (14.67, 24.1), (0.972, 1.995), (1.1135, 2.19), (-0.51, 11.52)]
y_ticks = [[22, 24, 26, 28, 30, 32, 34],
           [15, 16, 17, 18, 19, 20, 21, 22, 23, 24],
           [1.0, 1.1, 1.2, 1.3, 1.4, 1.5, 1.6, 1.7, 1.8, 1.9],
           [1.2, 1.3, 1.4, 1.5, 1.6, 1.7, 1.8, 1.9, 2.0, 2.1],
           [0, 2, 4, 6, 8, 10]]
y_titles = ["Zenith BT 23 GHz, K",
            "Zenith BT 31 GHz, K",
            "Precip. Water Vapor, mm",
            "log10 Liquid Water Path, log10(g/m<sup>2</sup>)",
            "MWR Phy Iter DQ Flag"]
y_title_size = [40, 40, 40, 31, 40]
x_ticks = [21, 21.5, 22, 22.5, 23, 23.5, 24]

layout = {}
for k in range(1, 6):
    top = TOPS[k - 1]
    bot = top + PH
    xa, ya = ax(k)
    layout["xaxis" if k == 1 else "xaxis%d" % k] = dict(
        domain=[0, 1], anchor=ya, range=[21, 24],
        tickmode="array", tickvals=x_ticks, ticktext=["%g" % v for v in x_ticks],
        ticks="inside", ticklen=round(27 * SY), tickwidth=2, tickcolor=DARK,
        showline=True, linecolor=DARK, linewidth=2,
        showgrid=False, zeroline=False, ticklabelstandoff=4,
        tickfont=dict(family=COND, size=37, color=DARK))
    layout["yaxis" if k == 1 else "yaxis%d" % k] = dict(
        domain=[pxy(bot), pxy(top)], anchor=xa, range=list(y_ranges[k - 1]),
        tickmode="array", tickvals=y_ticks[k - 1],
        ticktext=["%g" % v for v in y_ticks[k - 1]],
        ticks="inside", ticklen=27, tickwidth=2, tickcolor=AXBLUE,
        showline=True, linecolor=AXBLUE, linewidth=2, mirror=True,
        showgrid=False, zeroline=False, ticklabelstandoff=20,
        tickfont=dict(family=COND, size=37, color=AXBLUE))
    annotations.append(dict(text=y_titles[k - 1], xref="paper", yref="paper",
                            x=pxx(240), y=pxy(top + PH / 2.0), textangle=-90,
                            xanchor="center", yanchor="middle", showarrow=False,
                            font=dict(family=WIDE, size=y_title_size[k - 1], color=AXBLUE)))
    annotations.append(dict(text="UTC hours on 20240814", xref="paper", yref="paper",
                            x=0.5, y=pxy(bot + 76), xanchor="center", yanchor="top",
                            showarrow=False, font=dict(family=COND, size=45, color=DARK)))

fig.update_layout(
    width=FIG_W, height=FIG_H,
    margin=dict(l=PL - BODY, r=3825 - PR, t=TOPS[0] * SY - BODY,
                b=FIG_H - (PB * SY - BODY), autoexpand=False),
    paper_bgcolor="white", plot_bgcolor="white",
    showlegend=False, shapes=shapes, annotations=annotations,
    **layout)

fig.write_html("out.html")
